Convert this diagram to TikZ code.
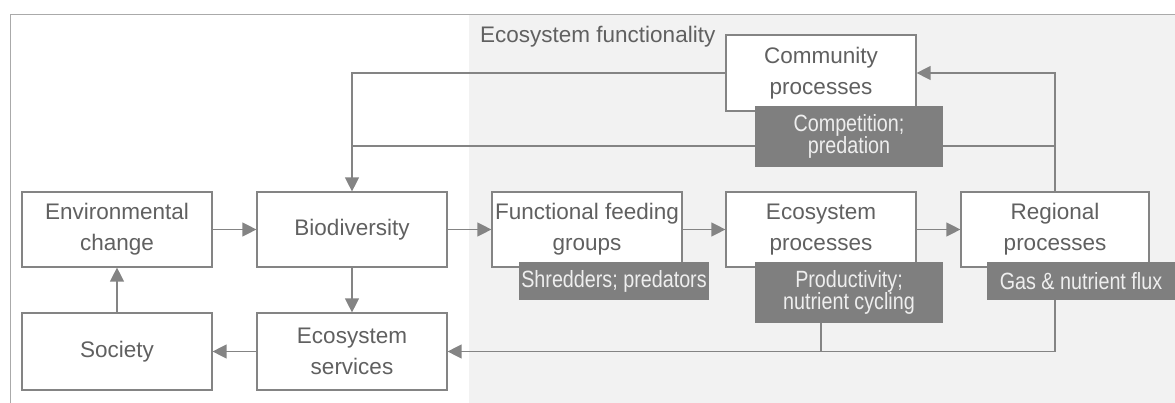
\documentclass[tikz,border=0pt]{standalone}
\usepackage{fontspec}
\setmainfont{Liberation Sans}
\newfontfamily\tagfont[FakeStretch=0.84]{Liberation Sans}
\usetikzlibrary{arrows.meta}
\definecolor{linegrey}{RGB}{132,132,132}
\definecolor{framegrey}{RGB}{170,170,170}
\definecolor{panelgrey}{RGB}{242,242,242}
\definecolor{textgrey}{RGB}{96,96,96}
\definecolor{tagfill}{RGB}{127,127,127}
\definecolor{tagtext}{RGB}{238,238,238}
\tikzset{
  box/.style={
    draw=linegrey,
    fill=white,
    line width=1.2pt,
    minimum width=190pt,
    minimum height=75pt,
    inner sep=0pt,
    align=center,
    text=textgrey,
    font=\fontsize{22.5}{31}\selectfont
  },
  tag/.style={
    fill=tagfill,
    minimum width=188pt,
    inner sep=0pt,
    align=center,
    text=tagtext,
    font=\tagfont\fontsize{23.5}{22}\selectfont
  },
  link/.style={draw=linegrey, line width=1.3pt},
  flow/.style={link, -{Triangle[length=14pt, width=14pt]}}
}

\begin{document}
\begin{tikzpicture}[x=1pt, y=-1pt]
  \useasboundingbox (0,0) rectangle (1175,403);

  % 1. Frame and the shaded functionality panel
  \fill[panelgrey] (469,15) rectangle (1175,403);
  \draw[framegrey, line width=0.8pt] (10,403) -- (10,14) -- (1175,14);
  \node[anchor=base west, text=textgrey, font=\fontsize{22.5}{27}\selectfont, inner sep=0pt]
    (title) at (480,43) {Ecosystem functionality};

  % 2. White boxes
  \node[box] (env) at (117,229.5) {Environmental\\change};
  \node[box] (bio) at (352,229.5) {Biodiversity};
  \node[box, minimum height=77pt] (soc) at (117,351.5) {Society};
  \node[box, minimum height=77pt] (ess) at (352,351.5) {Ecosystem\\services};
  \node[box] (ffg) at (587,229.5) {Functional feeding\\groups};
  \node[box] (ecp) at (821,229.5) {Ecosystem\\processes};
  \node[box, minimum height=76pt] (com) at (821,73) {Community\\processes};
  \node[box, minimum width=188pt] (reg) at (1055,229.5) {Regional\\processes};

  % 3. Connectors (drawn before the dark tags, which hide the crossings)
  \coordinate (loop) at (600,146);
  \draw[flow] (env) -- (bio);
  \draw[flow] (bio) -- (ffg);
  \draw[flow] (ffg) -- (ecp);
  \draw[flow] (ecp) -- (reg);
  \draw[flow] (soc) -- (env);
  \draw[flow] (bio) -- (ess);
  \draw[flow] (ess) -- (soc);
  \draw[flow] (com.west) -| (bio.north);
  \draw[flow] (reg.north) |- (com.east);
  \draw[link] (reg.north |- loop) -- (bio.north |- loop);
  \draw[flow] (reg.south) |- (ess.east);
  \draw[link] (ecp.south) -- (ecp.south |- ess.east);

  % 4. Dark tags
  \node[tag, minimum height=61pt] (cmp) at (849,136.5) {Competition;\\predation};
  \node[tag, minimum width=190pt, minimum height=38pt] (shr) at (614,281) {Shredders; predators};
  \node[tag, minimum height=61pt] (prd) at (849,292.5) {Productivity;\\nutrient cycling};
  \node[tag, minimum height=38pt] (gas) at (1081,281) {Gas \& nutrient flux};

\end{tikzpicture}
\end{document}
